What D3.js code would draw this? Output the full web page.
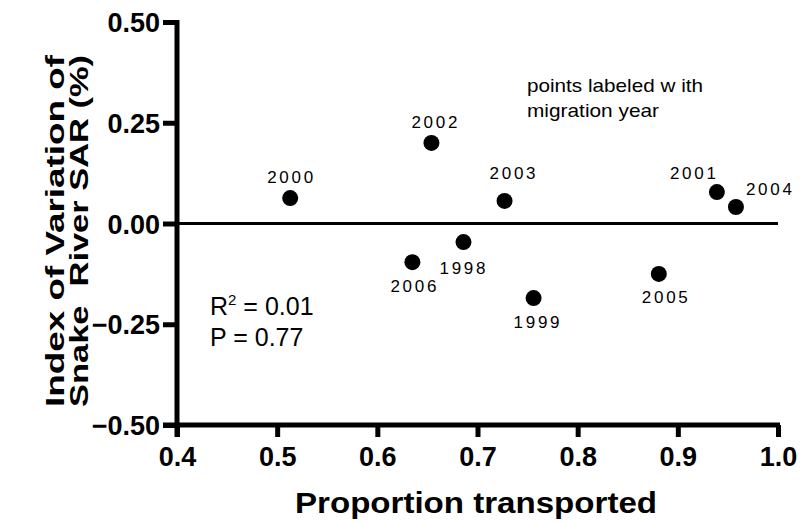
<!DOCTYPE html>
<html>
<head>
<meta charset="utf-8">
<script src="https://cdn.jsdelivr.net/npm/d3@7"></script>
<style>
  html, body { margin: 0; padding: 0; background: #fff; }
  svg { display: block; }
  text { font-family: "Liberation Sans", Arial, sans-serif; fill: #000; }
</style>
</head>
<body>
<svg id="chart" width="801" height="523"></svg>
<script>
// ---- data ----
const years = ["1998", "1999", "2000", "2001", "2002", "2003", "2004", "2005", "2006"];
const proportionTransported = [0.686, 0.756, 0.513, 0.939, 0.654, 0.727, 0.958, 0.881, 0.635];
const sarIndex = [-0.046, -0.185, 0.063, 0.078, 0.200, 0.056, 0.041, -0.125, -0.096];
const xTicks = [0.4, 0.5, 0.6, 0.7, 0.8, 0.9, 1.0];
const yTicks = [-0.50, -0.25, 0.00, 0.25, 0.50];
const xTitle = "Proportion transported";
const yTitleLines = ["Index of Variation of", "Snake  River SAR (%)"];
const statsLines = [["R", "2", " = 0.01"], ["P", "", " = 0.77"]];
const noteLines = ["points labeled w ith", "migration year"];

// ---- layout (label placement offsets in px, relative to each point) ----
const labelOffsets = {
  "1998": [-1, 32], "1999": [3, 30], "2000": [0, -15], "2001": [-24, -13],
  "2002": [3, -15], "2003": [8, -22], "2004": [33, -12], "2005": [6, 29], "2006": [1, 30]
};
const noteLengths = [176, 132];

const svg = d3.select("#chart");
const x = d3.scaleLinear().domain([0.4, 1.0]).range([177, 778]);
const y = d3.scaleLinear().domain([-0.5, 0.5]).range([425, 22]);

// zero reference line
svg.append("line")
  .attr("x1", x(0.4)).attr("x2", x(1.0))
  .attr("y1", y(0)).attr("y2", y(0))
  .attr("stroke", "#000").attr("stroke-width", 3);

// axes
const xAxis = d3.axisBottom(x).tickValues(xTicks).tickFormat(d3.format(".1f")).tickSize(12).tickPadding(8);
const yAxis = d3.axisLeft(y).tickValues(yTicks).tickFormat(d3.format(".2f")).tickSize(14).tickPadding(3);

const gx = svg.append("g").attr("transform", `translate(0,${y(-0.5)})`).call(xAxis);
const gy = svg.append("g").attr("transform", `translate(${x(0.4)},0)`).call(yAxis);
[gx, gy].forEach(g => {
  g.select(".domain").remove();
  g.selectAll(".tick line").attr("stroke", "#000").attr("stroke-width", 5);
  g.selectAll(".tick text")
    .style("font-family", "'Liberation Sans', Arial, sans-serif")
    .style("font-size", "27px").style("font-weight", "bold").attr("fill", "#000");
});
gx.selectAll(".tick text").attr("dy", "0.71em").attr("y", 22);
gy.selectAll(".tick text").attr("dy", "0.36em").attr("x", -17);

// axis lines
svg.append("line")
  .attr("x1", x(0.4) - 14).attr("x2", x(1.0) + 2)
  .attr("y1", y(-0.5)).attr("y2", y(-0.5))
  .attr("stroke", "#000").attr("stroke-width", 5);
svg.append("line")
  .attr("x1", x(0.4)).attr("x2", x(0.4))
  .attr("y1", y(0.5) - 2).attr("y2", y(-0.5) + 12)
  .attr("stroke", "#000").attr("stroke-width", 5);

// axis titles
svg.append("text")
  .attr("x", 476).attr("y", 513)
  .attr("text-anchor", "middle")
  .attr("textLength", 362).attr("lengthAdjust", "spacingAndGlyphs")
  .style("font-size", "29px").style("font-weight", "bold")
  .text(xTitle);

const yt = svg.append("g").attr("transform", "translate(0,231) rotate(-90)");
yTitleLines.forEach((line, i) => {
  yt.append("text")
    .attr("x", 0).attr("y", 64 + i * 24)
    .attr("text-anchor", "middle")
    .attr("textLength", 352).attr("lengthAdjust", "spacingAndGlyphs")
    .attr("xml:space", "preserve").style("white-space", "pre")
    .style("font-size", "26px").style("font-weight", "bold")
    .text(line);
});

// points
const pts = years.map((yr, i) => ({ yr, px: proportionTransported[i], v: sarIndex[i] }));
svg.append("g").selectAll("circle").data(pts).join("circle")
  .attr("cx", d => x(d.px)).attr("cy", d => y(d.v)).attr("r", 8).attr("fill", "#000");

// point labels
svg.append("g").selectAll("text").data(pts).join("text")
  .attr("x", d => x(d.px) + labelOffsets[d.yr][0])
  .attr("y", d => y(d.v) + labelOffsets[d.yr][1])
  .attr("text-anchor", "middle")
  .attr("textLength", 46).attr("lengthAdjust", "spacing")
  .style("font-size", "17px")
  .text(d => d.yr);

// stats text
statsLines.forEach((parts, i) => {
  const t = svg.append("text").attr("x", 210).attr("y", 315 + i * 31)
    .attr("xml:space", "preserve").style("white-space", "pre")
    .style("font-size", "25px");
  t.append("tspan").text(parts[0]);
  if (parts[1]) t.append("tspan").attr("dy", -10).style("font-size", "15px").text(parts[1]);
  t.append("tspan").attr("dy", parts[1] ? 10 : 0).text(parts[2]);
});

// note
noteLines.forEach((line, i) => {
  svg.append("text").attr("x", 527).attr("y", 92 + i * 25)
    .attr("textLength", noteLengths[i]).attr("lengthAdjust", "spacingAndGlyphs")
    .attr("xml:space", "preserve").style("white-space", "pre")
    .style("font-size", "19px")
    .text(line);
});
</script>
</body>
</html>
